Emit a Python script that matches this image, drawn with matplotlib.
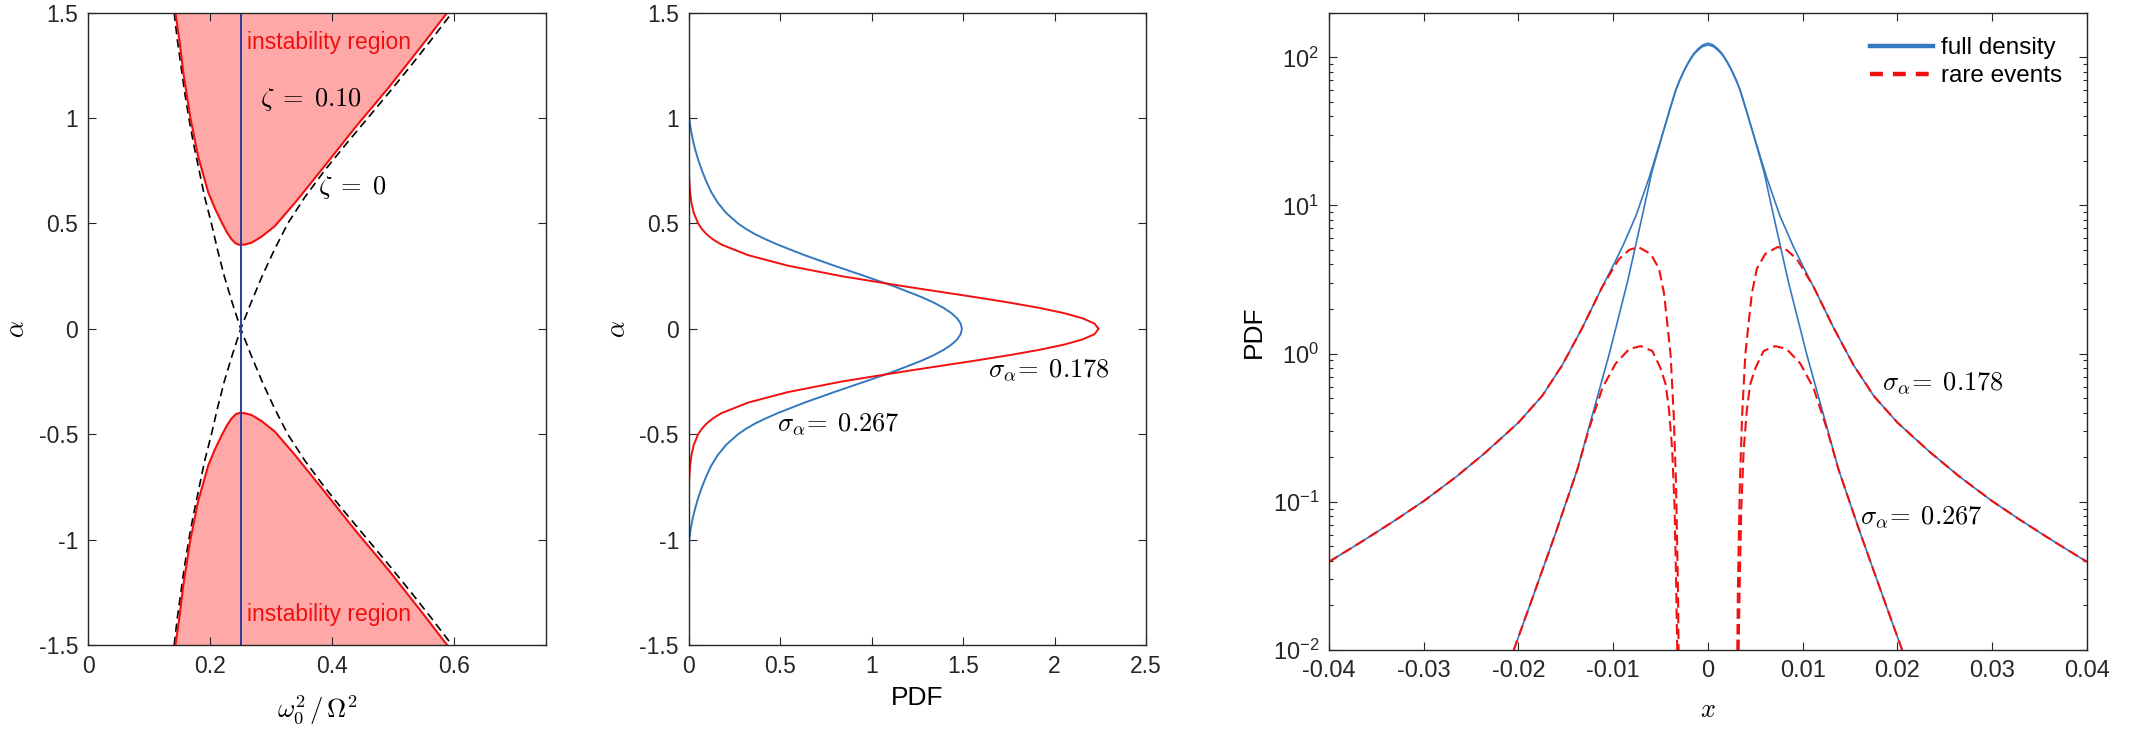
import matplotlib
matplotlib.use("Agg")
import matplotlib.pyplot as plt
from matplotlib.lines import Line2D
from matplotlib.ticker import LogLocator, NullLocator

plt.rcParams["font.family"] = ["Liberation Sans", "DejaVu Sans"]
plt.rcParams["mathtext.fontset"] = "custom"
plt.rcParams["mathtext.rm"] = "Liberation Sans"
plt.rcParams["mathtext.it"] = "Liberation Sans:italic"
plt.rcParams["axes.unicode_minus"] = False

# ---------------- data ----------------
# panel 1: boundaries for alpha >= 0 (lower half is the mirror image)
bound_a = [0.0, 0.125, 0.25, 0.375, 0.5, 0.625, 0.75, 0.875, 1.0, 1.125, 1.25, 1.375, 1.5]
zeta0_left = [0.25, 0.236, 0.223, 0.212, 0.202, 0.191, 0.182, 0.173, 0.165, 0.158, 0.152, 0.146, 0.141]
zeta0_right = [0.25, 0.267, 0.285, 0.305, 0.327, 0.355, 0.387, 0.422, 0.458, 0.494, 0.529, 0.563, 0.596]
# zeta = 0.10 tongue, traced from top-left to top-right
zeta10_x = [0.143, 0.150, 0.156, 0.167, 0.180, 0.197, 0.208, 0.219, 0.228, 0.235, 0.242, 0.249,
            0.258, 0.268, 0.284, 0.306, 0.339, 0.383, 0.437, 0.492, 0.546, 0.588]
zeta10_a = [1.5, 1.36, 1.215, 1.01, 0.82, 0.646, 0.57, 0.504, 0.455, 0.425, 0.405, 0.398,
            0.401, 0.409, 0.437, 0.488, 0.599, 0.757, 0.954, 1.144, 1.342, 1.5]
omega_ratio = 0.25

# panel 2: pdf of alpha (symmetric, alpha >= 0 given)
alpha_grid = [0.0, 0.025, 0.05, 0.075, 0.1, 0.125, 0.15, 0.2, 0.25, 0.3, 0.35, 0.4, 0.425, 0.45,
              0.475, 0.5, 0.55, 0.6, 0.65, 0.7, 0.75, 0.8, 0.85, 0.9, 0.95, 1.0, 1.5]
pdf_s267 = [1.494, 1.487, 1.468, 1.436, 1.393, 1.339, 1.276, 1.129, 0.964, 0.795, 0.633, 0.486,
            0.421, 0.361, 0.312, 0.270, 0.205, 0.158, 0.123, 0.096, 0.073, 0.053, 0.036, 0.022,
            0.011, 0.003, 0.0]
pdf_s178 = [2.241, 2.219, 2.154, 2.051, 1.914, 1.751, 1.571, 1.192, 0.836, 0.542, 0.324, 0.179,
            0.132, 0.097, 0.071, 0.052, 0.028, 0.015, 0.008, 0.004, 0.001, 0.0, 0.0, 0.0,
            0.0, 0.0, 0.0]

# panel 3: pdf of x for x <= 0 (right side is the mirror image)
x_s178 = [-0.04, -0.0365, -0.033, -0.030, -0.0266, -0.0235, -0.020, -0.0175, -0.0154, -0.0133,
          -0.0112, -0.010, -0.009, -0.0076, -0.0062, -0.0048, -0.004, -0.0034, -0.003, -0.0025,
          -0.002, -0.0015, -0.001, -0.0005, 0.0]
p_s178 = [0.0394, 0.0541, 0.0752, 0.1012, 0.1472, 0.2148, 0.3428, 0.5188, 0.8318, 1.479,
          2.786, 3.936, 5.309, 8.511, 15.45, 30.20, 45.19, 60.26, 69.98, 82.22,
          94.41, 105.9, 114.8, 121.6, 124.5]
x_s267 = [-0.0205, -0.01836, -0.0161, -0.0138, -0.01186, -0.01045, -0.00851, -0.00686,
          -0.00594, -0.0048, -0.004, -0.0034, -0.003, -0.0025, -0.002, -0.0015, -0.001,
          -0.0005, 0.0]
p_s267 = [0.0100, 0.0240, 0.0610, 0.1641, 0.4624, 0.9772, 3.020, 8.913,
          16.60, 30.20, 44.67, 59.57, 69.18, 81.28, 93.33, 104.3, 112.7,
          118.9, 121.1]
xr_s178 = [-0.04, -0.0365, -0.033, -0.030, -0.0266, -0.0235, -0.020, -0.0175, -0.0154, -0.0133,
           -0.0112, -0.010, -0.0094, -0.0083, -0.00735, -0.00605, -0.00517, -0.00464, -0.0043,
           -0.00394, -0.0036, -0.00336, -0.00316, -0.0031]
pr_s178 = [0.0394, 0.0541, 0.0752, 0.1012, 0.1472, 0.2148, 0.3428, 0.5188, 0.8318, 1.479,
           2.786, 3.76, 4.34, 5.02, 5.25, 4.71, 3.76, 2.56, 1.63,
           0.977, 0.373, 0.125, 0.0252, 0.0100]
xr_s267 = [-0.0205, -0.01836, -0.0161, -0.0138, -0.01256, -0.01115, -0.00974, -0.0083, -0.0071,
           -0.00587, -0.00503, -0.00447, -0.00412, -0.00377, -0.00352, -0.00334, -0.00324]
pr_s267 = [0.0100, 0.0240, 0.0610, 0.1641, 0.310, 0.585, 0.859, 1.076, 1.125,
           1.042, 0.805, 0.624, 0.425, 0.223, 0.0908, 0.0252, 0.0100]

blue = "#3478BF"
red = "#F01010"
ink = "#262626"
cm = "cm"


def style(ax, fs=16.5):
    for s in ax.spines.values():
        s.set_color(ink)
        s.set_linewidth(1.0)
    ax.tick_params(which="both", direction="in", top=True, right=True, colors=ink,
                   labelsize=fs, pad=7, width=0.8)
    ax.tick_params(which="major", length=6)
    ax.tick_params(which="minor", length=3.2)


def mirror(xs, ys):
    return [-v for v in xs[::-1]], ys[::-1]


fig = plt.figure(figsize=(21.38, 7.35), dpi=100)

# ---------------- panel 1 ----------------
ax1 = fig.add_axes([0.0412, 0.1224, 0.2142, 0.8603])
dashA_x = zeta0_left[::-1] + zeta0_right[1:]
dashA_a = bound_a[::-1] + [-a for a in bound_a[1:]]
dashB_a = [-a for a in dashA_a]
ax1.fill(zeta10_x, zeta10_a, color="#FFA8A8", lw=0)
ax1.fill(zeta10_x, [-a for a in zeta10_a], color="#FFA8A8", lw=0)
ax1.plot(dashA_x, dashA_a, color="k", ls=(0, (5, 3)), lw=1.2)
ax1.plot(dashA_x, dashB_a, color="k", ls=(0, (5, 3)), lw=1.2)
ax1.plot(zeta10_x, zeta10_a, color=red, lw=1.5)
ax1.plot(zeta10_x, [-a for a in zeta10_a], color=red, lw=1.5)
ax1.plot([omega_ratio, omega_ratio], [-1.5, 1.5], color="#2B3BA0", lw=1.4)
ax1.text(0.261, 1.36, "instability region", color=red, fontsize=16.5, va="center")
ax1.text(0.261, -1.355, "instability region", color=red, fontsize=16.5, va="center")
ax1.text(0.282, 1.09, r"$\zeta\;=\;0.10$", fontsize=19, va="center", math_fontfamily=cm)
ax1.text(0.377, 0.67, r"$\zeta\;=\;0$", fontsize=19, va="center", math_fontfamily=cm)
ax1.set_xlim(0, 0.75)
ax1.set_ylim(-1.5, 1.5)
ax1.set_xticks([0, 0.2, 0.4, 0.6], ["0", "0.2", "0.4", "0.6"])
ax1.set_yticks([-1.5, -1, -0.5, 0, 0.5, 1, 1.5], ["-1.5", "-1", "-0.5", "0", "0.5", "1", "1.5"])
style(ax1)
ax1.set_xlabel(r"$\omega_0^2\,/\,\Omega^2$", fontsize=19, math_fontfamily=cm, va="center")
ax1.set_ylabel(r"$\alpha$", fontsize=19, math_fontfamily=cm, va="center")
ax1.xaxis.set_label_coords(0.5, -0.103)
ax1.yaxis.set_label_coords(-0.155, 0.5)

# ---------------- panel 2 ----------------
ax2 = fig.add_axes([0.3221, 0.1224, 0.2139, 0.8603])
full_a = [-a for a in alpha_grid[::-1]] + alpha_grid[1:]
ax2.plot(pdf_s267[::-1] + pdf_s267[1:], full_a, color=blue, lw=1.4)
ax2.plot(pdf_s178[::-1] + pdf_s178[1:], full_a, color=red, lw=1.4)
ax2.text(1.636, -0.195, r"$\sigma_\alpha\!=\;0.178$", fontsize=19, va="center", math_fontfamily=cm)
ax2.text(0.483, -0.45, r"$\sigma_\alpha\!=\;0.267$", fontsize=19, va="center", math_fontfamily=cm)
ax2.set_xlim(0, 2.5)
ax2.set_ylim(-1.5, 1.5)
ax2.set_xticks([0, 0.5, 1, 1.5, 2, 2.5], ["0", "0.5", "1", "1.5", "2", "2.5"])
ax2.set_yticks([-1.5, -1, -0.5, 0, 0.5, 1, 1.5], ["-1.5", "-1", "-0.5", "0", "0.5", "1", "1.5"])
style(ax2)
ax2.set_xlabel("PDF", fontsize=19, va="center")
ax2.set_ylabel(r"$\alpha$", fontsize=19, math_fontfamily=cm, va="center")
ax2.xaxis.set_label_coords(0.5, -0.084)
ax2.yaxis.set_label_coords(-0.155, 0.5)

# ---------------- panel 3 ----------------
ax3 = fig.add_axes([0.6216, 0.1156, 0.3545, 0.8671])
for xs, ps in [(x_s178, p_s178), (x_s267, p_s267)]:
    mx, mp = mirror(xs, ps)
    ax3.plot(xs + mx[1:], ps + mp[1:], color=blue, lw=1.2)
for xs, ps in [(xr_s178, pr_s178), (xr_s267, pr_s267)]:
    mx, mp = mirror(xs, ps)
    ax3.plot(xs, ps, color=red, lw=1.5, ls=(0, (5, 2.5)))
    ax3.plot(mx, mp, color=red, lw=1.5, ls=(0, (5, 2.5)))
ax3.text(0.0184, 0.63, r"$\sigma_\alpha\!=\;0.178$", fontsize=19, va="center", math_fontfamily=cm)
ax3.text(0.0161, 0.079, r"$\sigma_\alpha\!=\;0.267$", fontsize=19, va="center", math_fontfamily=cm)
ax3.set_yscale("log")
ax3.set_xlim(-0.04, 0.04)
ax3.set_ylim(1e-2, 200)
xt = [-0.04, -0.03, -0.02, -0.01, 0, 0.01, 0.02, 0.03, 0.04]
ax3.set_xticks(xt, ["-0.04", "-0.03", "-0.02", "-0.01", "0", "0.01", "0.02", "0.03", "0.04"])
ax3.yaxis.set_major_locator(LogLocator(base=10, numticks=10))
ax3.yaxis.set_minor_locator(LogLocator(base=10, subs=range(2, 10), numticks=20))
ax3.xaxis.set_minor_locator(NullLocator())
style(ax3, fs=17)
ax3.set_xlabel(r"$x$", fontsize=19, math_fontfamily=cm, va="center")
ax3.set_ylabel("PDF", fontsize=19, va="center")
ax3.xaxis.set_label_coords(0.5, -0.094)
ax3.yaxis.set_label_coords(-0.099, 0.5)
handles = [Line2D([], [], color=blue, lw=3.2),
           Line2D([], [], color=red, lw=3.2, ls=(0, (2.9, 2.25)))]
ax3.legend(handles, ["full density", "rare events"], loc="upper right", frameon=False,
           fontsize=17.5, handlelength=2.6, handletextpad=0.35, labelspacing=0.25,
           borderaxespad=0.6)

fig.savefig("out.png", dpi=100)
